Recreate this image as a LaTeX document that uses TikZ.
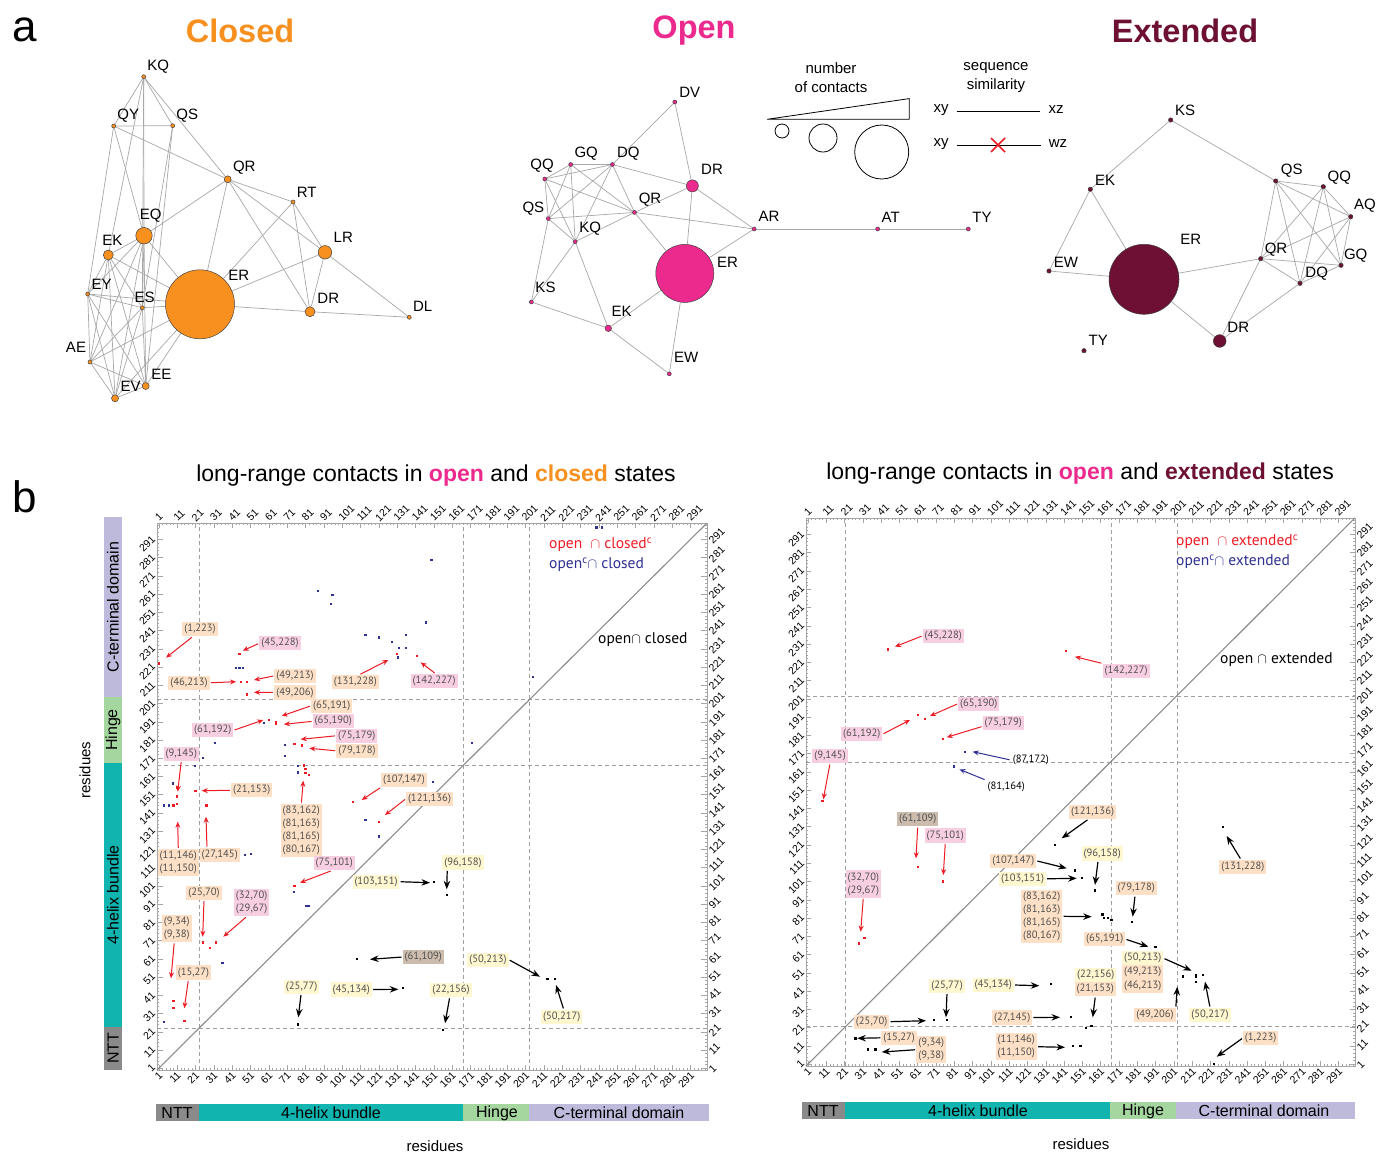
\documentclass[tikz,border=0pt]{standalone}
\usepackage{fontspec}
\setmainfont{Liberation Sans}
\newfontfamily\lblfont{PT Sans}
\usetikzlibrary{arrows.meta}
\pgfdeclarelayer{back}
\pgfdeclarelayer{edges}
\pgfsetlayers{back,edges,main}
\definecolor{cclosed}{HTML}{F7901E}
\definecolor{copen}{HTML}{EC2A8E}
\definecolor{cext}{HTML}{6D1033}
\definecolor{cpeach}{HTML}{FDE0C5}
\definecolor{cpink}{HTML}{F8CFE2}
\definecolor{cyel}{HTML}{FFF7CF}
\definecolor{ctaupe}{HTML}{CBBCAE}
\definecolor{cred}{HTML}{ED1C24}
\definecolor{cblue}{HTML}{2E3192}
\definecolor{cteal}{HTML}{12B4B0}
\definecolor{chinge}{HTML}{A5D6A0}
\definecolor{clav}{HTML}{BEBADC}
\definecolor{cntt}{HTML}{8A8A8A}
\definecolor{cedge}{HTML}{A8A8A8}
\definecolor{albtext}{HTML}{505050}
\tikzset{
  nd/.style={circle, draw=black!75, line width=0.5pt, inner sep=0pt},
  nl/.style={font=\fontsize{15}{15}\selectfont, inner sep=0pt},
  ed/.style={draw=cedge, line width=0.7pt},
  ttl/.style={font=\fontsize{32.5}{34}\selectfont\bfseries, inner sep=0pt},
  albl/.style={font=\lblfont\fontsize{10.6}{13}\selectfont, text=albtext, inner xsep=2pt, inner ysep=2.2pt, align=center},
  aarr/.style={-{Stealth[length=6pt,width=5pt]}, line width=1pt, shorten <=1pt},
  bigtip/.style={-{Stealth[length=8.5pt,width=6.5pt]}, line width=1.2pt},
  frm/.style={draw=gray!70, line width=0.6pt},
  tk/.style={draw=gray!70, line width=0.4pt},
  tkl/.style={font=\fontsize{10.5}{11}\selectfont, inner sep=1pt},
  dsh/.style={draw=gray!75, line width=0.8pt, dash pattern=on 4pt off 3pt},
  diag/.style={draw=gray!90, line width=1.1pt},
  lg/.style={font=\lblfont\fontsize{15.5}{17}\selectfont, inner sep=0pt},
  barlab/.style={font=\fontsize{16}{16}\selectfont, inner sep=0pt},
  axl/.style={font=\fontsize{15}{15}\selectfont, inner sep=0pt},
  ptitle/.style={font=\fontsize{23}{24}\selectfont, inner sep=0pt},
}
\newcommand\netnode[4]{\node[nd, fill=#4, minimum size=#3] (#1) at (#2) {};}
\newcommand\netlab[3]{\node[nl] (#1) at (#2) {#3};}
\newcommand\annot[7]{\node[albl, fill=#2] (#1) at (#3) {#4};\coordinate (#1t) at (#7);\draw[aarr, #5] (#1.#6) -- (#1t);}
\newcommand\dpt[3]{\fill[#1] (#2,#3) +(-0.62,-0.62) rectangle +(0.62,0.62);}
\begin{document}
\begin{tikzpicture}[x=1pt,y=-1pt]
\useasboundingbox (0,0) rectangle (1377,1154);
\begin{pgfonlayer}{back}\fill[white] (0,0) rectangle (1377,1154);\end{pgfonlayer}

% ---------- panel letters and titles
\node[font=\fontsize{44}{44}\selectfont, inner sep=0pt] (pa) at (25,30) {a};
\node[font=\fontsize{44}{44}\selectfont, inner sep=0pt] (pb) at (25,497) {b};
\node[ttl, text=cclosed] (tclosed) at (240,31) {Closed};
\node[ttl, text=copen] (topen) at (694,31) {Open};
\node[ttl, text=cext] (text) at (1185,31) {Extended};

% ---------- closed network
\netnode{cKQ}{143.7,76.7}{4pt}{cclosed}
\netnode{cQY}{113.7,126}{4pt}{cclosed}
\netnode{cQS}{172.7,125.7}{4pt}{cclosed}
\netnode{cQR}{227.7,179.3}{7pt}{cclosed}
\netnode{cRT}{293,202}{4pt}{cclosed}
\netnode{cEQ}{144,235.7}{16.5pt}{cclosed}
\netnode{cEK}{108.3,255}{10pt}{cclosed}
\netnode{cLR}{325,252.3}{13.5pt}{cclosed}
\netnode{cER}{200,304.3}{69pt}{cclosed}
\netnode{cEY}{87.7,294}{4pt}{cclosed}
\netnode{cES}{142.3,307.7}{4pt}{cclosed}
\netnode{cDR}{310,311.7}{10pt}{cclosed}
\netnode{cDL}{409.3,317.3}{4pt}{cclosed}
\netnode{cAE}{90,362}{4pt}{cclosed}
\netnode{cEV}{115,398.3}{7pt}{cclosed}
\netnode{cEE}{145.7,386}{7pt}{cclosed}
\netlab{lcKQ}{158.3,66.7}{KQ}
\netlab{lcQY}{128.3,116}{QY}
\netlab{lcQS}{187.3,116}{QS}
\netlab{lcQR}{244.3,167.7}{QR}
\netlab{lcRT}{306.7,192.3}{RT}
\netlab{lcEQ}{150.7,216}{EQ}
\netlab{lcEK}{112.3,240}{EK}
\netlab{lcLR}{343.3,237.7}{LR}
\netlab{lcER}{238.7,275.7}{ER}
\netlab{lcEY}{101.7,284.3}{EY}
\netlab{lcES}{144.7,297.3}{ES}
\netlab{lcDR}{328.3,298.3}{DR}
\netlab{lcDL}{422.7,306.7}{DL}
\netlab{lcAE}{76,347.3}{AE}
\netlab{lcEV}{130.7,386.7}{EV}
\netlab{lcEE}{161.3,374.3}{EE}
\begin{pgfonlayer}{edges}
\foreach \a/\b in {KQ/QY,KQ/QS,KQ/QR,KQ/EQ,KQ/ES,KQ/EK,QY/QS,QY/QR,QY/EQ,QY/EY,QS/ES,QS/EE,QR/EQ,QR/ER,QR/RT,QR/LR,QR/DR,RT/ER,RT/LR,RT/DR,LR/ER,LR/DR,LR/DL,ER/DR,DR/DL,EQ/EK,EQ/ER,EQ/EY,EQ/AE,EQ/EV,EQ/EE,EQ/ES,EK/ER,EK/EY,EK/ES,EK/AE,EK/EV,EK/EE,EY/ES,EY/ER,EY/AE,EY/EV,EY/EE,ES/ER,ES/AE,ES/EV,ES/EE,AE/ER,AE/EV,AE/EE,EV/ER,EV/EE,EE/ER}
  \draw[ed] (c\a) -- (c\b);
\end{pgfonlayer}

% ---------- open network
\netnode{oDV}{674.8,102}{4pt}{copen}
\netnode{oGQ}{570.7,164.5}{4pt}{copen}
\netnode{oDQ}{612.4,164.5}{4pt}{copen}
\netnode{oQQ}{544.8,179}{4pt}{copen}
\netnode{oDR}{692.4,185.9}{12pt}{copen}
\netnode{oQS}{548.3,218.6}{4pt}{copen}
\netnode{oQR}{634.5,212.4}{4pt}{copen}
\netnode{oKQ}{575.2,241.7}{4pt}{copen}
\netnode{oAR}{754.1,229}{4pt}{copen}
\netnode{oAT}{877.6,229}{4pt}{copen}
\netnode{oTY}{968.3,229}{4pt}{copen}
\netnode{oER}{684.8,273.4}{58pt}{copen}
\netnode{oKS}{531.4,302}{4pt}{copen}
\netnode{oEK}{608.3,328.3}{6.5pt}{copen}
\netnode{oEW}{669.3,373.8}{4pt}{copen}
\netlab{loDV}{689.7,92}{DV}
\netlab{loGQ}{586.2,153.8}{GQ}
\netlab{loDQ}{628.3,153.8}{DQ}
\netlab{loQQ}{542,166}{QQ}
\netlab{loDR}{712,169}{DR}
\netlab{loQS}{533.4,209}{QS}
\netlab{loQR}{650,200}{QR}
\netlab{loKQ}{590.3,229}{KQ}
\netlab{loAR}{769,216.6}{AR}
\netlab{loAT}{890.7,217.3}{AT}
\netlab{loTY}{982,217.3}{TY}
\netlab{loER}{727.6,262}{ER}
\netlab{loKS}{545.5,287.7}{KS}
\netlab{loEK}{621.7,311.2}{EK}
\netlab{loEW}{686.2,357}{EW}
\begin{pgfonlayer}{edges}
\foreach \a/\b in {DV/DQ,DV/DR,GQ/DQ,GQ/QQ,GQ/QS,GQ/KQ,GQ/QR,DQ/QQ,DQ/QS,DQ/KQ,DQ/DR,DQ/QR,QQ/QR,QQ/QS,QQ/KQ,QS/QR,QS/KQ,QS/KS,QR/KQ,QR/DR,QR/AR,QR/ER,KQ/KS,KQ/EK,DR/ER,DR/AR,ER/AR,ER/EK,ER/EW,KS/EK,EK/EW,AR/AT,AT/TY}
  \draw[ed] (o\a) -- (o\b);
\end{pgfonlayer}

% ---------- extended network
\netnode{eKS}{1170.7,120}{4.4pt}{cext}
\netnode{eEK}{1090.3,189.3}{4.4pt}{cext}
\netnode{eQS}{1275.7,181}{4.4pt}{cext}
\netnode{eQQ}{1323.3,186.7}{4.4pt}{cext}
\netnode{eAQ}{1350.7,216.7}{4.4pt}{cext}
\netnode{eER}{1144,279.3}{70pt}{cext}
\netnode{eQR}{1260.7,258.7}{4.4pt}{cext}
\netnode{eGQ}{1341,265.3}{4.4pt}{cext}
\netnode{eDQ}{1300,283.3}{4.4pt}{cext}
\netnode{eEW}{1049,271}{4.4pt}{cext}
\netnode{eDR}{1219.7,341}{12.7pt}{cext}
\netnode{eTY}{1084,350.7}{4.4pt}{cext}
\netlab{leKS}{1185,110}{KS}
\netlab{leEK}{1105,180}{EK}
\netlab{leQS}{1291.7,170.7}{QS}
\netlab{leQQ}{1339.3,177.3}{QQ}
\netlab{leAQ}{1365,206}{AQ}
\netlab{leER}{1190.7,239.3}{ER}
\netlab{leQR}{1276,249.3}{QR}
\netlab{leGQ}{1355.7,255.3}{GQ}
\netlab{leDQ}{1316.7,273.3}{DQ}
\netlab{leEW}{1066,262.3}{EW}
\netlab{leDR}{1238.3,327.3}{DR}
\netlab{leTY}{1098.3,340.7}{TY}
\begin{pgfonlayer}{edges}
\foreach \a/\b in {KS/EK,KS/QS,EK/EW,EK/ER,EW/ER,ER/QR,ER/DR,DR/QR,DR/DQ,QS/QQ,QS/AQ,QS/QR,QS/DQ,QS/GQ,QQ/AQ,QQ/QR,QQ/DQ,QQ/GQ,AQ/QR,AQ/DQ,AQ/GQ,QR/GQ,QR/DQ,DQ/GQ}
  \draw[ed] (e\a) -- (e\b);
\end{pgfonlayer}

% ---------- legend
\node[nl, align=center, font=\fontsize{15}{19}\selectfont] (lgnum) at (831,78) {number\\of contacts};
\draw[line width=0.8pt] (767.2,119.3) -- (909.3,98.6) -- (909.3,119.3) -- cycle;
\node[circle, draw, line width=0.8pt, minimum size=14pt, inner sep=0pt] (lgc1) at (782,131) {};
\node[circle, draw, line width=0.8pt, minimum size=28pt, inner sep=0pt] (lgc2) at (823,138) {};
\node[circle, draw, line width=0.8pt, minimum size=54pt, inner sep=0pt] (lgc3) at (881.7,152) {};
\node[nl, align=center, font=\fontsize{15}{19}\selectfont] (lgseq) at (996,78) {sequence\\similarity};
\node[nl] (lgxy1) at (941,110) {xy};
\node[nl] (lgxz) at (1056,110) {xz};
\node[nl] (lgxy2) at (941,144) {xy};
\node[nl] (lgwz) at (1058,144) {wz};
\draw[line width=0.8pt] (lgxy1.east) ++(8,1) coordinate (sa1) (lgxz.west) ++(-8,1) coordinate (sa2);
\draw[line width=0.8pt] (sa1) -- (sa2);
\draw[line width=0.8pt] (lgxy2.east) ++(8,1) coordinate (sb1) (lgwz.west) ++(-8,1) coordinate (sb2);
\draw[line width=0.8pt] (sb1) -- (sb2);
\draw[cred, line width=1.6pt] (991,138) -- (1005,152) (991,152) -- (1005,138);

% ---------- panel b titles
\node[ptitle] (tl) at (436,476) {long-range contacts in \textcolor{copen}{\textbf{open}} and \textcolor{cclosed}{\textbf{closed}} states};
\node[ptitle] (tr) at (1080,474) {long-range contacts in \textcolor{copen}{\textbf{open}} and \textcolor{cext}{\textbf{extended}} states};

% ---------- domain bars
\fill[clav] (104,517) rectangle (121.7,697);
\fill[chinge] (104,697) rectangle (121.7,762.7);
\fill[cteal] (104,762.7) rectangle (121.7,1026.7);
\fill[cntt] (104,1026.7) rectangle (121.7,1070);
\node[barlab, rotate=90] (vb1) at (113,607) {C-terminal domain};
\node[barlab, rotate=90] (vb2) at (113,730) {Hinge};
\node[barlab, rotate=90] (vb3) at (113,895) {4-helix bundle};
\node[barlab, rotate=90] (vb4) at (113,1048) {NTT};
\node[axl, rotate=90] (resL) at (85,770) {residues};

\fill[cntt] (156,1104) rectangle (198.5,1121);
\fill[cteal] (198.5,1104) rectangle (463,1121);
\fill[chinge] (463,1104) rectangle (529,1121);
\fill[clav] (529,1104) rectangle (709,1121);
\node[barlab] (hb1) at (177,1113) {NTT};
\node[barlab] (hb2) at (331,1113) {4-helix bundle};
\node[barlab] (hb3) at (497,1113) {Hinge};
\node[barlab] (hb4) at (619,1113) {C-terminal domain};
\node[axl] (resB1) at (435,1146) {residues};

\fill[cntt] (802,1102) rectangle (845,1119);
\fill[cteal] (845,1102) rectangle (1110,1119);
\fill[chinge] (1110,1102) rectangle (1176,1119);
\fill[clav] (1176,1102) rectangle (1355,1119);
\node[barlab] (hc1) at (823,1111) {NTT};
\node[barlab] (hc2) at (978,1111) {4-helix bundle};
\node[barlab] (hc3) at (1143,1111) {Hinge};
\node[barlab] (hc4) at (1264,1111) {C-terminal domain};
\node[axl] (resB2) at (1081,1144) {residues};

% ---------- left contact map
\begin{scope}[shift={(157,1070)}, x=1.8333pt, y=1.8233pt]
 \draw[frm] (0,0) rectangle (300,300);
 \foreach \k in {1,3,...,299} {\draw[tk] (\k,0) -- (\k,1.3) (\k,300) -- (\k,298.7) (0,\k) -- (1.3,\k) (300,\k) -- (298.7,\k);}
 \foreach \k in {1,11,...,291} {\draw[tk] (\k,0) -- (\k,3) (\k,300) -- (\k,297) (0,\k) -- (3,\k) (300,\k) -- (297,\k);
   \node[tkl, rotate=45, anchor=west] (Ltop\k) at (\k-1.5,301.5) {\k};
   \node[tkl, rotate=45, anchor=east] (Lbot\k) at (\k+1.5,-1.5) {\k};
   \node[tkl, rotate=45, anchor=east] (Llft\k) at (-1.5,\k+1.5) {\k};
   \node[tkl, rotate=45, anchor=west] (Lrgt\k) at (301.5,\k-2) {\k};}
 \draw[dsh] (23,0) -- (23,300) (167,0) -- (167,300) (203,0) -- (203,300) (0,23) -- (300,23) (0,167) -- (300,167) (0,203) -- (300,203);
 \draw[diag] (0,0) -- (300,300);
 \foreach \i/\j in {87.7/262.7,95.8/260.5,94.9/255.6,113.8/238.6,120.9/237.2,128/234.8,135.8/238.6,132/231.6,135.8/231.6,131.5/226.3,43/220.3,45/220.3,47/220.3,58.5/190.5,31.6/179.2,69.7/178.2,69.7/172.2,24.9/171.3,20.7/166.9,76.9/166.9,76.9/163.1,239.8/297.6,242.7/297.6,149.8/279.7,146.7/245.5,204.9/215.4,171.8/179.2,8.6/157.2,3.8/145,6.7/145,113.8/137.1,120.9/128,48/117.9,51.1/118.5,74.7/97.8,81.5/90,83/90,35.8/58.8,3.8/26.5,150.7/158.1}
   \dpt{cblue}{\i}{\j};
 \foreach \i/\j in {1/223,45/228,46/213,49/213,49/206,65/191,65/190,61/192,75/179,79/178,131/228,142/227,9/145,11/146,11/150,11/155,21/153,27/145,83/162,81/163,81/165,80/167,107/147,121/136,75/101,25/70,32/70,29/67,9/34,9/38,15/27}
   \dpt{cred}{\i}{\j};
 \foreach \i/\j in {109/61,134/45,77/25,151/103,158/96,156/22,213/50,217/50}
   \dpt{black}{\i}{\j};
\end{scope}
\node[lg, text=cred, anchor=west] (lgA) at (549,545) {open \ $\cap$ closed\textsuperscript{c}};
\node[lg, text=cblue, anchor=west] (lgB) at (549,565) {open\textsuperscript{c}$\cap$ closed};
\node[lg, anchor=west] (lgC) at (598,640) {open$\cap$ closed};

\annot{L1}{cpeach}{200,629.3}{(1,223)}{cred}{225}{166,657.7}
\annot{L2}{cpink}{280,643.3}{(45,228)}{cred}{west}{242.7,650.7}
\annot{L3}{cpeach}{189,682.8}{(46,213)}{cred}{east}{236,681.7}
\annot{L4}{cpeach}{295,675.8}{(49,213)}{cred}{west}{254,680}
\annot{L5}{cpeach}{295,692.5}{(49,206)}{cred}{west}{254,692.3}
\annot{L6}{cpeach}{331.7,705.8}{(65,191)}{cred}{west}{281.7,716}
\annot{L7}{cpink}{333.3,721.3}{(65,190)}{cred}{west}{284,724.3}
\annot{L8}{cpink}{212.8,730.3}{(61,192)}{cred}{east}{263.3,720}
\annot{L9}{cpink}{356.7,735.8}{(75,179)}{cred}{west}{300.7,739.3}
\annot{L10}{cpeach}{357,750.8}{(79,178)}{cred}{west}{309.3,748.3}
\annot{L11}{cpink}{181.3,753.7}{(9,145)}{cred}{south}{177.7,791.7}
\annot{L12}{cpeach}{355.3,682}{(131,228)}{cred}{60}{388.3,660}
\annot{L13}{cpink}{434.2,681}{(142,227)}{cred}{80}{420.7,662.3}
\annot{L14}{cpeach}{251.7,790.3}{(21,153)}{cred}{west}{201.7,790.7}
\annot{L15}{cpeach}{178.3,862.8}{(11,146)\\(11,150)}{cred}{north}{177.7,821.7}
\annot{L16}{cpeach}{219.7,855}{(27,145)}{cred}{150}{206,816.7}
\annot{L17}{cpeach}{301.3,830.5}{(83,162)\\(81,163)\\(81,165)\\(80,167)}{cred}{north}{303.3,780.7}
\annot{L18}{cpeach}{404,780}{(107,147)}{cred}{south west}{361.7,800}
\annot{L19}{cpeach}{429.5,798.8}{(121,136)}{cred}{west}{385,815}
\annot{L20}{cpink}{334.3,863.3}{(75,101)}{cred}{250}{300,882.7}
\annot{L21}{cpeach}{204,892.8}{(25,70)}{cred}{south}{202.7,936.7}
\annot{L22}{cpink}{251.7,902.8}{(32,70)\\(29,67)}{cred}{250}{223.3,936.7}
\annot{L23}{cpeach}{176.7,928.5}{(9,34)\\(9,38)}{cred}{260}{171,978.3}
\annot{L24}{cpeach}{193.5,972.5}{(15,27)}{cred}{235}{184.3,1008.3}
\annot{L25}{cyel}{301.7,986.7}{(25,77)}{black,bigtip}{265}{298.3,1017.3}
\annot{L26}{cyel}{351.3,989.5}{(45,134)}{black,bigtip}{east}{398.3,989.3}
\annot{L27}{cyel}{376,881.7}{(103,151)}{black,bigtip}{east}{430,882.7}
\annot{L28}{ctaupe}{423.3,957}{(61,109)}{black,bigtip}{west}{370,959.3}
\annot{L29}{cyel}{463,862.5}{(96,158)}{black,bigtip}{205}{446.7,889.3}
\annot{L30}{cyel}{451,990}{(22,156)}{black,bigtip}{260}{445,1023.3}
\annot{L31}{cyel}{488,959.7}{(50,213)}{black,bigtip}{east}{540,976.7}
\annot{L32}{cyel}{561.7,1016.7}{(50,217)}{black,bigtip}{75}{556,985}

% ---------- right contact map
\begin{scope}[shift={(806,1066)}, x=1.83pt, y=1.827pt]
 \draw[frm] (0,0) rectangle (300,300);
 \foreach \k in {1,3,...,299} {\draw[tk] (\k,0) -- (\k,1.3) (\k,300) -- (\k,298.7) (0,\k) -- (1.3,\k) (300,\k) -- (298.7,\k);}
 \foreach \k in {1,11,...,291} {\draw[tk] (\k,0) -- (\k,3) (\k,300) -- (\k,297) (0,\k) -- (3,\k) (300,\k) -- (297,\k);
   \node[tkl, rotate=45, anchor=west] (Rtop\k) at (\k-1.5,301.5) {\k};
   \node[tkl, rotate=45, anchor=east] (Rbot\k) at (\k+1.5,-1.5) {\k};
   \node[tkl, rotate=45, anchor=east] (Rlft\k) at (-1.5,\k+1.5) {\k};
   \node[tkl, rotate=45, anchor=west] (Rrgt\k) at (301.5,\k-2) {\k};}
 \draw[dsh] (21.5,0) -- (21.5,300) (166.7,0) -- (166.7,300) (202.7,0) -- (202.7,300) (0,21.5) -- (300,21.5) (0,166.3) -- (300,166.3) (0,202.5) -- (300,202.5);
 \draw[diag] (0,0) -- (300,300);
 \foreach \i/\j in {87/172,81/164}
   \dpt{cblue}{\i}{\j};
 \foreach \i/\j in {45/228,142/227,61/192,65/190,75/179,9/145,61/109,75/101,32/70,29/67}
   \dpt{cred}{\i}{\j};
 \foreach \i/\j in {70/25,77/25,27/15,34/9,38/9,134/45,145/27,146/11,150/11,147/107,151/103,136/121,158/96,162/83,163/81,165/81,167/80,178/79,191/65,156/22,153/21,213/50,213/49,213/46,206/49,217/50,228/131,223/1}
   \dpt{black}{\i}{\j};
\end{scope}
\node[lg, text=cred, anchor=west] (lgD) at (1176,541.7) {open \ $\cap$ extended\textsuperscript{c}};
\node[lg, text=cblue, anchor=west] (lgE) at (1176,561.7) {open\textsuperscript{c}$\cap$ extended};
\node[lg, anchor=west] (lgF) at (1220,659.3) {open $\cap$ extended};

\annot{R1}{cpink}{943.3,635.8}{(45,228)}{cred}{west}{895,646.7}
\annot{R2}{cpink}{978.7,703.7}{(65,190)}{cred}{west}{930,716}
\annot{R3}{cpink}{861.7,734.2}{(61,192)}{cred}{east}{910,720}
\annot{R4}{cpink}{1003.3,722.7}{(75,179)}{cred}{190}{946.7,737.3}
\annot{R5}{none,text=black}{1030.8,760}{(87,172)}{cblue}{west}{972.7,751.7}
\annot{R6}{cpink}{830,756.2}{(9,145)}{cred}{south}{823.3,799.3}
\annot{R7}{cpink}{1126.2,670.8}{(142,227)}{cred}{north west}{1075,656.7}
\annot{R8}{none,text=black}{1006.3,787.3}{(81,164)}{cblue}{north west}{959.3,769.3}
\annot{R9}{ctaupe}{917.7,819.2}{(61,109)}{cred}{south}{916,858.3}
\annot{R10}{cpink}{945.3,835.5}{(75,101)}{cred}{south}{943.3,875}
\annot{R11}{cpink}{863.3,884}{(32,70)\\(29,67)}{cred}{south}{860.7,931.7}
\annot{R12}{cpeach}{1092.5,812}{(121,136)}{black,bigtip}{240}{1061.7,838.3}
\annot{R13}{cpeach}{1013.3,860.8}{(107,147)}{black,bigtip}{east}{1066.7,868.3}
\annot{R14}{cyel}{1022.5,878.8}{(103,151)}{black,bigtip}{east}{1076.7,878.3}
\annot{R15}{cpeach}{1041.7,916.3}{(83,162)\\(81,163)\\(81,165)\\(80,167)}{black,bigtip}{east}{1091.7,916.7}
\annot{R16}{cyel}{947,985.7}{(25,77)}{black,bigtip}{south}{946,1017.3}
\annot{R17}{cyel}{993.3,985}{(45,134)}{black,bigtip}{east}{1039.3,985.7}
\annot{R18}{cpeach}{871.7,1021.7}{(25,70)}{black,bigtip}{east}{926,1020.7}
\annot{R19}{cpeach}{899.2,1037.8}{(15,27)}{black,bigtip}{west}{857.3,1038.3}
\annot{R20}{cpeach}{931.2,1049.7}{(9,34)\\(9,38)}{black,bigtip}{west}{881.7,1052}
\annot{R21}{cpeach}{1012.2,1017.5}{(27,145)}{black,bigtip}{east}{1060,1017.3}
\annot{R22}{cpeach}{1016.3,1046.7}{(11,146)\\(11,150)}{black,bigtip}{east}{1065,1047.3}
\annot{R23}{cyel}{1102.3,853.5}{(96,158)}{black,bigtip}{240}{1095,885}
\annot{R24}{cpeach}{1136.3,888.3}{(79,178)}{black,bigtip}{260}{1132.7,916.7}
\annot{R25}{cpeach}{1104.7,939.2}{(65,191)}{black,bigtip}{east}{1148.3,946.7}
\annot{R26}{cyel}{1142.8,958.3}{(50,213)}{black,bigtip}{east}{1191.7,970.7}
\node[albl, fill=cpeach] (R26b) at (1142.8,972) {(49,213)};
\node[albl, fill=cpeach] (R26c) at (1142.8,986) {(46,213)};
\node[albl, fill=cyel] (R27a) at (1095.8,975) {(22,156)};
\annot{R27}{cpeach}{1095.3,989.3}{(21,153)}{black,bigtip}{south}{1092.7,1017.3}
\annot{R28}{cpeach}{1155,1015}{(49,206)}{black,bigtip}{north east}{1177.3,986.7}
\annot{R29}{cyel}{1210,1014.7}{(50,217)}{black,bigtip}{north}{1205,981.7}
\annot{R30}{cpeach}{1242.8,866.7}{(131,228)}{black,bigtip}{105}{1226.7,836}
\annot{R31}{cpeach}{1260.7,1038}{(1,223)}{black,bigtip}{west}{1216.7,1056.7}
\end{tikzpicture}
\end{document}
